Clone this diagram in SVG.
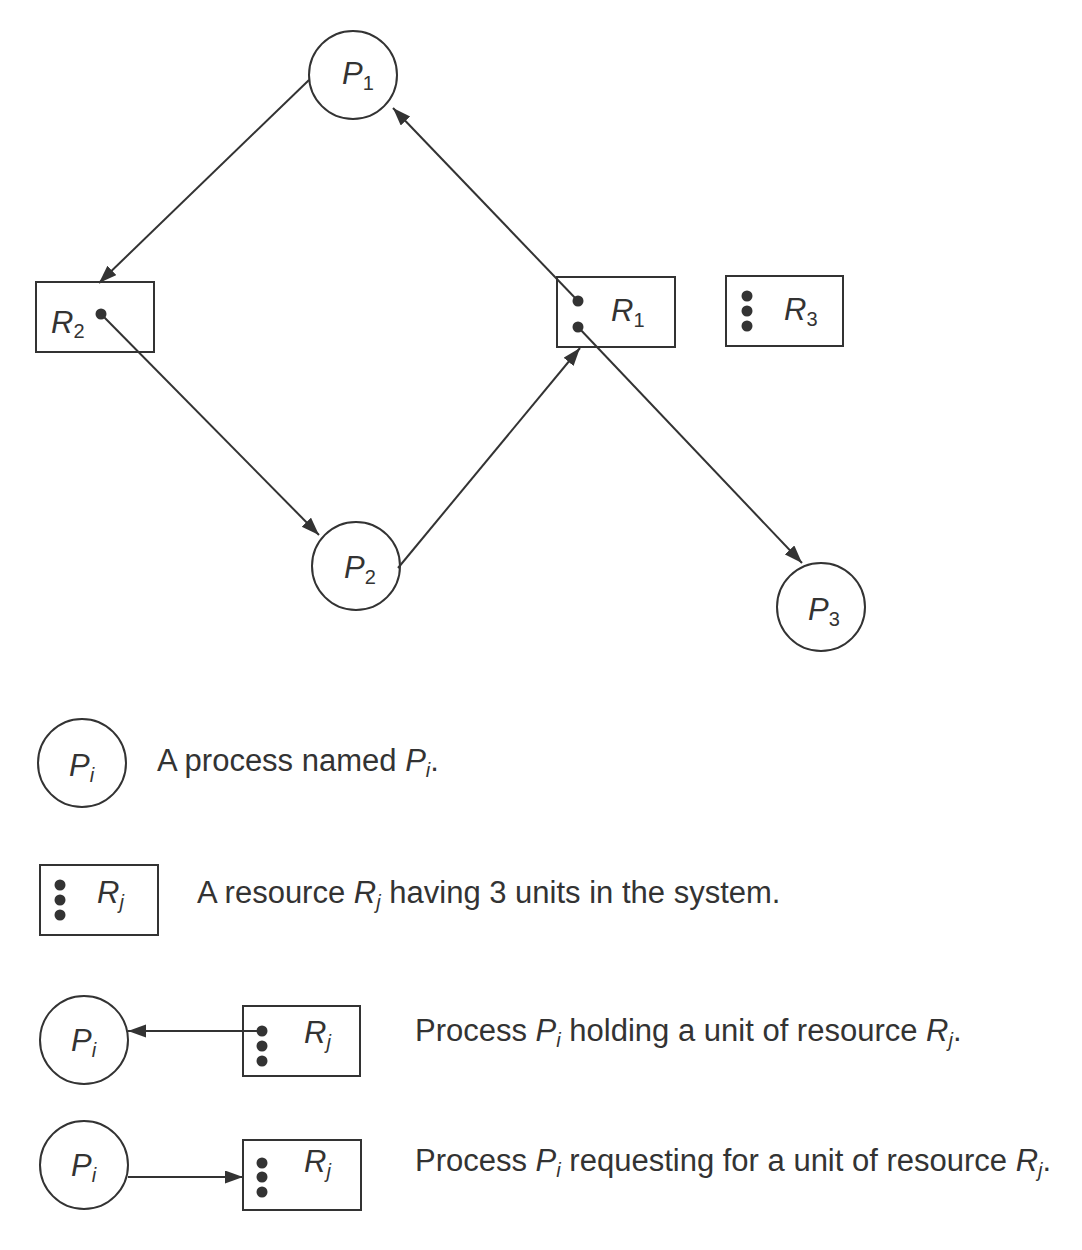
<svg xmlns="http://www.w3.org/2000/svg" width="1082" height="1250" viewBox="0 0 1082 1250">
<style>
.node{fill:#fff;stroke:#333;stroke-width:2}
.edge{fill:none;stroke:#333;stroke-width:2}
.dot{fill:#333}
.lbl{font-family:"Liberation Sans",Arial,sans-serif;font-style:italic;font-size:31px;fill:#333}
.sub{font-style:normal;font-size:20px}
.isub{font-style:italic;font-size:20px}
.txt{font-family:"Liberation Sans",Arial,sans-serif;font-size:31px;fill:#333}
</style>
<defs>
<marker id="arr" markerUnits="userSpaceOnUse" markerWidth="20" markerHeight="14" refX="18" refY="6.5" orient="auto">
<path d="M0,0 L18,6.5 L0,13 z" fill="#333"/>
</marker>
</defs>
<rect width="1082" height="1250" fill="#fff"/>
<g id="P1">
<circle class="node" cx="353" cy="75" r="44"/>
<text class="lbl" x="342" y="84">P<tspan class="sub" dy="6">1</tspan></text>
</g>
<g id="R2">
<rect class="node" x="36" y="282" width="118" height="70"/>
<text class="lbl" x="51" y="333">R<tspan class="sub" dy="5">2</tspan></text>
<circle class="dot" cx="101" cy="314" r="5.5"/>
</g>
<g id="R1">
<rect class="node" x="557" y="277" width="118" height="70"/>
<text class="lbl" x="611" y="321">R<tspan class="sub" dy="6">1</tspan></text>
<circle class="dot" cx="578" cy="301" r="5.5"/>
<circle class="dot" cx="578" cy="327" r="5.5"/>
</g>
<g id="R3">
<rect class="node" x="726" y="276" width="117" height="70"/>
<text class="lbl" x="784" y="320">R<tspan class="sub" dy="6">3</tspan></text>
<circle class="dot" cx="747" cy="296" r="5.5"/>
<circle class="dot" cx="747" cy="311" r="5.5"/>
<circle class="dot" cx="747" cy="326" r="5.5"/>
</g>
<g id="P2">
<circle class="node" cx="356" cy="566" r="44"/>
<text class="lbl" x="344" y="578">P<tspan class="sub" dy="6">2</tspan></text>
</g>
<g id="P3">
<circle class="node" cx="821" cy="607" r="44"/>
<text class="lbl" x="808" y="620">P<tspan class="sub" dy="6">3</tspan></text>
</g>
<g id="legend-process">
<circle class="node" cx="82" cy="763" r="44"/>
<text class="lbl" x="69" y="776">P<tspan class="isub" dy="6">i</tspan></text>
<text class="txt" x="157" y="771" font-size="29">A process named <tspan font-style="italic">P</tspan><tspan class="isub" dy="6">i</tspan><tspan dy="-6">.</tspan></text>
</g>
<g id="legend-resource">
<rect class="node" x="40" y="865" width="118" height="70"/>
<circle class="dot" cx="60" cy="885" r="5.5"/>
<circle class="dot" cx="60" cy="900" r="5.5"/>
<circle class="dot" cx="60" cy="915" r="5.5"/>
<text class="lbl" x="97" y="903">R<tspan class="isub" dy="6">j</tspan></text>
<text class="txt" x="197" y="903">A resource <tspan font-style="italic">R</tspan><tspan class="isub" dy="6">j</tspan><tspan dy="-6"> having 3 units in the system.</tspan></text>
</g>
<g id="legend-hold-P">
<circle class="node" cx="84" cy="1040" r="44"/>
<text class="lbl" x="71" y="1051">P<tspan class="isub" dy="6">i</tspan></text>
</g>
<g id="legend-hold-R">
<rect class="node" x="243" y="1006" width="117" height="70"/>
<circle class="dot" cx="262" cy="1031" r="5.5"/>
<circle class="dot" cx="262" cy="1046" r="5.5"/>
<circle class="dot" cx="262" cy="1061" r="5.5"/>
<text class="lbl" x="304" y="1043">R<tspan class="isub" dy="6">j</tspan></text>
<text class="txt" x="415" y="1041">Process <tspan font-style="italic">P</tspan><tspan class="isub" dy="6">i</tspan><tspan dy="-6"> holding a unit of resource </tspan><tspan font-style="italic">R</tspan><tspan class="isub" dy="6">j</tspan><tspan dy="-6">.</tspan></text>
</g>
<g id="legend-req-P">
<circle class="node" cx="84" cy="1165" r="44"/>
<text class="lbl" x="71" y="1176">P<tspan class="isub" dy="6">i</tspan></text>
</g>
<g id="legend-req-R">
<rect class="node" x="243" y="1140" width="118" height="70"/>
<circle class="dot" cx="262" cy="1163" r="5.5"/>
<circle class="dot" cx="262" cy="1177" r="5.5"/>
<circle class="dot" cx="262" cy="1192" r="5.5"/>
<text class="lbl" x="304" y="1172">R<tspan class="isub" dy="6">j</tspan></text>
<text class="txt" x="415" y="1171">Process <tspan font-style="italic">P</tspan><tspan class="isub" dy="6">i</tspan><tspan dy="-6"> requesting for a unit of resource </tspan><tspan font-style="italic">R</tspan><tspan class="isub" dy="6">j</tspan><tspan dy="-6">.</tspan></text>
</g>
<g id="connectors">
<path class="edge" d="M309,80 L99,283" marker-end="url(#arr)"/>
<path class="edge" d="M101,314 L319,535" marker-end="url(#arr)"/>
<path class="edge" d="M398,568 L580,348" marker-end="url(#arr)"/>
<path class="edge" d="M578,301 L393,108" marker-end="url(#arr)"/>
<path class="edge" d="M578,327 L802,563" marker-end="url(#arr)"/>
<path class="edge" d="M262,1031 L128,1031" marker-end="url(#arr)"/>
<path class="edge" d="M128,1177 L243,1177" marker-end="url(#arr)"/>
</g>
</svg>
